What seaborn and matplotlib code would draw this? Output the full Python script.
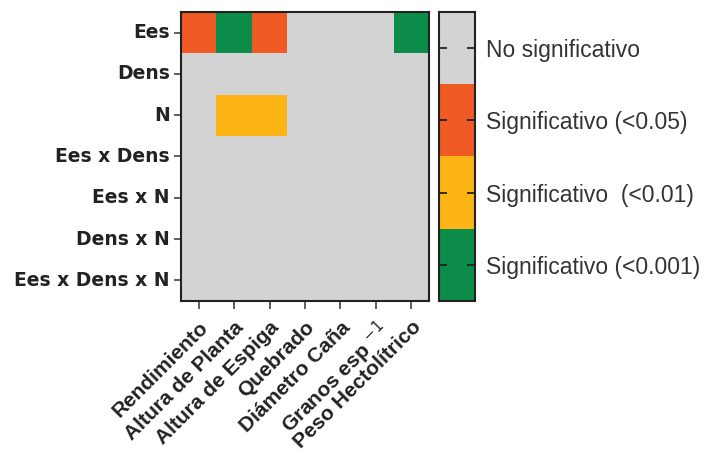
import numpy as np
import pandas as pd
import matplotlib
matplotlib.use("Agg")
import matplotlib.pyplot as plt
from matplotlib.colors import ListedColormap
import seaborn as sns

# Efectos del ANOVA (filas) y variables (columnas)
effects = ["Ees", "Dens", "N", "Ees x Dens", "Ees x N", "Dens x N", "Ees x Dens x N"]
variables = ["Rendimiento", "Altura de Planta", "Altura de Espiga", "Quebrado",
             "Diámetro Caña", "Granos esp $^{-1}$", "Peso Hectolítrico"]

# 0 = no significativo, 1 = <0.05, 2 = <0.01, 3 = <0.001
ees = [1, 3, 1, 0, 0, 0, 3]
dens = [0, 0, 0, 0, 0, 0, 0]
n = [0, 2, 2, 0, 0, 0, 0]
ees_dens = [0, 0, 0, 0, 0, 0, 0]
ees_n = [0, 0, 0, 0, 0, 0, 0]
dens_n = [0, 0, 0, 0, 0, 0, 0]
ees_dens_n = [0, 0, 0, 0, 0, 0, 0]

levels = ["No significativo", "Significativo (<0.05)",
          "Significativo  (<0.01)", "Significativo (<0.001)"]
level_codes = [0, 1, 2, 3]
colors = ["#d3d3d3", "#f05a24", "#fdb515", "#0b8c48"]

df = pd.DataFrame([ees, dens, n, ees_dens, ees_n, dens_n, ees_dens_n],
                  index=effects, columns=variables)
legend_df = pd.DataFrame({"nivel": level_codes}, index=levels)

sns.set_style("white")
plt.rcParams["font.family"] = ["Liberation Sans", "DejaVu Sans"]
cmap = ListedColormap(colors)

fig = plt.figure(figsize=(7.11, 4.63), dpi=100)
ax = fig.add_axes([0.2546, 0.35, 0.3488, 0.624])
cax = fig.add_axes([0.6174, 0.35, 0.0506, 0.624])

sns.heatmap(df, ax=ax, cmap=cmap, vmin=-0.5, vmax=3.5, cbar=False, linewidths=0)

for s in ax.spines.values():
    s.set_visible(True)
    s.set_linewidth(1.5)
    s.set_color("#222222")

ax.tick_params(axis="x", length=6, width=1.2, color="#444444", bottom=True, pad=6)
ax.tick_params(axis="y", length=5, width=1.2, color="#444444", left=True,
               right=False, pad=3)
ax.set_xticklabels(variables, rotation=45, ha="right", rotation_mode="anchor",
                   fontsize=15, fontweight="bold", color="#222222")
ax.set_yticklabels(effects, rotation=0, fontsize=13.5, fontweight="bold",
                   color="#222222", family=["DejaVu Sans"])
ax.set_xlabel("")
ax.set_ylabel("")

# colour key drawn as a one-column heatmap of the levels
sns.heatmap(legend_df, ax=cax, cmap=cmap, vmin=-0.5, vmax=3.5, cbar=False,
            linewidths=0, xticklabels=False)
cax.set_axisbelow(False)
for s in cax.spines.values():
    s.set_visible(True)
    s.set_linewidth(1.5)
    s.set_color("#222222")
cax.tick_params(axis="y", which="major", direction="in", left=True, right=True,
                labelleft=False, labelright=True, length=6, width=1.3,
                color="#222222", labelsize=16.5, pad=8, labelcolor="#333333")
cax.set_yticklabels(levels, rotation=0)
cax.tick_params(axis="x", bottom=False)
cax.set_xlabel("")
cax.set_ylabel("")

fig.savefig("out.png", dpi=100)
